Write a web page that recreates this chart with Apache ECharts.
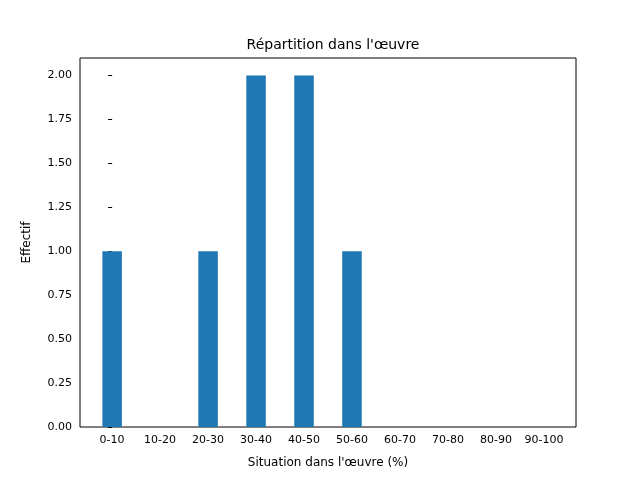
<!DOCTYPE html>
<html>
<head>
<meta charset="utf-8">
<script src="https://cdn.jsdelivr.net/npm/echarts@6/dist/echarts.min.js"></script>
<style>html,body{margin:0;padding:0;background:#fff}#chart{width:640px;height:480px}</style>
</head>
<body>
<div id="chart"></div>
<script>
const categories = ['0-10', '10-20', '20-30', '30-40', '40-50', '50-60', '60-70', '70-80', '80-90', '90-100'];
const counts = [1, 0, 1, 2, 2, 1, 0, 0, 0, 0];

const font = 'DejaVu Sans';
const chart = echarts.init(document.getElementById('chart'));

chart.setOption({
    animation: false,
    textStyle: { fontFamily: font },
    title: {
        text: "Répartition dans l'œuvre",
        left: 328, top: 33, textAlign: 'center',
        textStyle: { fontFamily: font, fontSize: 14, fontWeight: 'normal', color: '#000' }
    },
    grid: [
        { left: 80, right: 64, top: 58, bottom: 53, show: true, borderColor: '#000', borderWidth: 1 },
        { left: 88, right: 72, top: 58, bottom: 53 }
    ],
    xAxis: [
        {
            type: 'value', gridIndex: 0, min: -0.67, max: 9.67,
            axisLabel: { show: false }, axisTick: { show: false }, splitLine: { show: false },
            axisLine: { show: false }
        },
        {
            type: 'category', gridIndex: 1, data: categories,
            axisLine: { show: false },
            axisTick: { alignWithLabel: true, length: 4, lineStyle: { color: '#000' } },
            axisLabel: { color: '#000', fontSize: 11, fontFamily: font, interval: 0, margin: 8 },
            name: "Situation dans l'œuvre (%)", nameLocation: 'middle', nameGap: 30,
            nameTextStyle: { color: '#000', fontSize: 12, fontFamily: font }
        }
    ],
    yAxis: [
        {
            type: 'value', gridIndex: 0, min: 0, max: 2.1, interval: 0.25,
            axisLine: { show: false },
            axisTick: { show: true, length: 4, lineStyle: { color: '#000' } },
            splitLine: { show: false },
            axisLabel: { color: '#000', fontSize: 11, fontFamily: font, showMaxLabel: false, formatter: v => v.toFixed(2) },
            name: 'Effectif', nameLocation: 'middle', nameGap: 47,
            nameTextStyle: { color: '#000', fontSize: 12, fontFamily: font }
        },
        { type: 'value', gridIndex: 1, show: false }
    ],
    series: [{
        type: 'bar', xAxisIndex: 0, yAxisIndex: 0,
        barWidth: 19.5,
        itemStyle: { color: '#1f77b4' },
        data: counts.map((c, i) => [i, c])
    }]
});
</script>
</body>
</html>
